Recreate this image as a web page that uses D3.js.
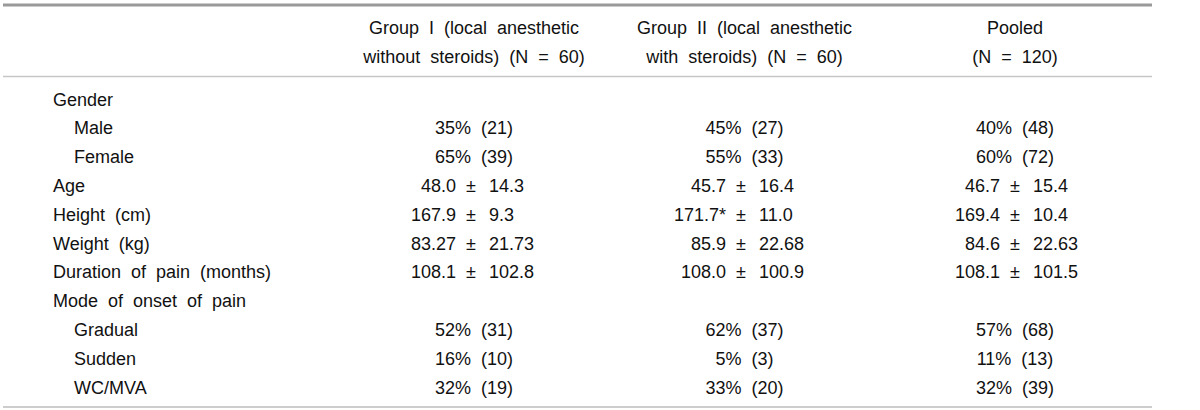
<!DOCTYPE html>
<html>
<head>
<meta charset="utf-8">
<script src="https://cdn.jsdelivr.net/npm/d3@7"></script>
<style>
  html, body { margin: 0; padding: 0; background: #fff; }
  svg { display: block; }
  text { font-family: "Liberation Sans", Arial, sans-serif; font-size: 18px; fill: #111; word-spacing: 5px; }
</style>
</head>
<body>
<svg id="chart" width="1200" height="410"></svg>
<script>
// ---- data ----
const headerLine1 = ["Group I (local anesthetic", "Group II (local anesthetic", "Pooled"];
const headerLine2 = ["without steroids) (N = 60)", "with steroids) (N = 60)", "(N = 120)"];
const rowLabels = ["Gender", "Male", "Female", "Age", "Height (cm)", "Weight (kg)",
  "Duration of pain (months)", "Mode of onset of pain", "Gradual", "Sudden", "WC/MVA"];
const rowIndent = [0, 1, 1, 0, 0, 0, 0, 0, 1, 1, 1];
// kind: "h" heading (no values), "p" percent (count), "m" mean ± sd
const rowKind = ["h", "p", "p", "m", "m", "m", "m", "h", "p", "p", "p"];
const groupI  = [null, "35% (21)", "65% (39)", ["48.0", "14.3"], ["167.9", "9.3"], ["83.27", "21.73"], ["108.1", "102.8"], null, "52% (31)", "16% (10)", "32% (19)"];
const groupII = [null, "45% (27)", "55% (33)", ["45.7", "16.4"], ["171.7*", "11.0"], ["85.9", "22.68"], ["108.0", "100.9"], null, "62% (37)", "5% (3)", "33% (20)"];
const pooled  = [null, "40% (48)", "60% (72)", ["46.7", "15.4"], ["169.4", "10.4"], ["84.6", "22.63"], ["108.1", "101.5"], null, "57% (68)", "11% (13)", "32% (39)"];
const columns = [groupI, groupII, pooled];

// ---- layout ----
const svg = d3.select("#chart");
const x = d3.scalePoint().domain(d3.range(3)).range([474, 1015]);   // column centers
const pmX = [471, 741, 1015];       // ± anchor per column
const leftGap = 15, rightGap = 18;
const y = d3.scalePoint().domain(d3.range(rowLabels.length)).range([105.5, 393.5]); // baselines

// rules
svg.append("line").attr("x1", 3).attr("x2", 1152).attr("y1", 5).attr("y2", 5)
  .attr("stroke", "#9a9a9a").attr("stroke-width", 3);
svg.append("line").attr("x1", 3).attr("x2", 1152).attr("y1", 76.5).attr("y2", 76.5)
  .attr("stroke", "#c6c6c6").attr("stroke-width", 1.5);
svg.append("line").attr("x1", 3).attr("x2", 1152).attr("y1", 407).attr("y2", 407)
  .attr("stroke", "#bdbdbd").attr("stroke-width", 1.5);

// header
svg.selectAll("text.h1").data(headerLine1).join("text").attr("class", "h1")
  .attr("x", (d, i) => x(i)).attr("y", 33.5).attr("text-anchor", "middle").text(d => d);
svg.selectAll("text.h2").data(headerLine2).join("text").attr("class", "h2")
  .attr("x", (d, i) => x(i)).attr("y", 63).attr("text-anchor", "middle").text(d => d);

// row labels
svg.selectAll("text.lab").data(rowLabels).join("text").attr("class", "lab")
  .attr("x", (d, i) => rowIndent[i] ? 74 : 53).attr("y", (d, i) => y(i)).text(d => d);

// values
columns.forEach((col, ci) => {
  col.forEach((v, ri) => {
    if (v == null) return;
    if (rowKind[ri] === "p") {
      svg.append("text").attr("x", x(ci)).attr("y", y(ri)).attr("text-anchor", "middle").text(v);
    } else {
      svg.append("text").attr("x", pmX[ci] - leftGap).attr("y", y(ri)).attr("text-anchor", "end").text(v[0]);
      svg.append("text").attr("x", pmX[ci]).attr("y", y(ri)).attr("text-anchor", "middle").text("\u00B1");
      svg.append("text").attr("x", pmX[ci] + rightGap).attr("y", y(ri)).attr("text-anchor", "start").text(v[1]);
    }
  });
});
</script>
</body>
</html>
